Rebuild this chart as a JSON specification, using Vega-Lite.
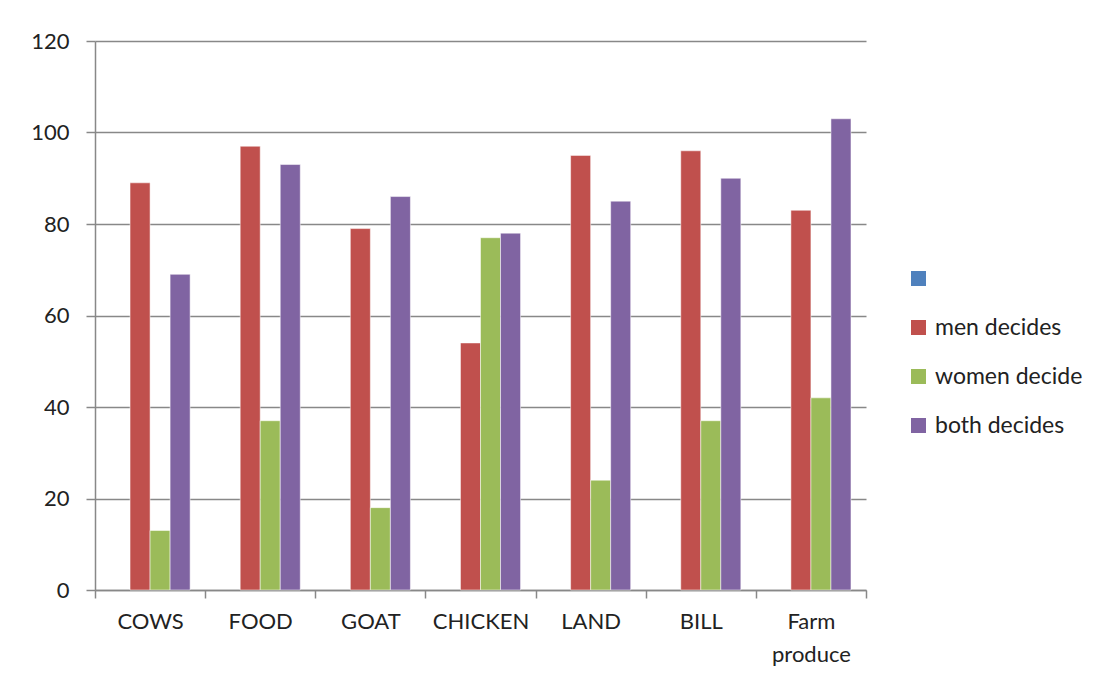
{
  "$schema": "https://vega.github.io/schema/vega-lite/v6.json",
  "width": 771,
  "height": 549,
  "autosize": {"type": "none"},
  "padding": {"left": 95, "top": 41, "right": 238, "bottom": 90},
  "background": "white",
  "config": {
    "font": "Lato",
    "view": {"stroke": null},
    "axis": {"labelFont": "Lato", "labelFontSize": 22, "labelFontWeight": 400, "labelColor": "#222222", "domainColor": "#888888", "domainWidth": 1.5, "tickColor": "#888888", "tickWidth": 1.5, "gridColor": "#888888", "gridWidth": 1.5}
  },
  "data": {
    "values": [
      {"item": "COWS", "series": "men decides", "value": 89},
      {"item": "COWS", "series": "women decide", "value": 13},
      {"item": "COWS", "series": "both decides", "value": 69},
      {"item": "FOOD", "series": "men decides", "value": 97},
      {"item": "FOOD", "series": "women decide", "value": 37},
      {"item": "FOOD", "series": "both decides", "value": 93},
      {"item": "GOAT", "series": "men decides", "value": 79},
      {"item": "GOAT", "series": "women decide", "value": 18},
      {"item": "GOAT", "series": "both decides", "value": 86},
      {"item": "CHICKEN", "series": "men decides", "value": 54},
      {"item": "CHICKEN", "series": "women decide", "value": 77},
      {"item": "CHICKEN", "series": "both decides", "value": 78},
      {"item": "LAND", "series": "men decides", "value": 95},
      {"item": "LAND", "series": "women decide", "value": 24},
      {"item": "LAND", "series": "both decides", "value": 85},
      {"item": "BILL", "series": "men decides", "value": 96},
      {"item": "BILL", "series": "women decide", "value": 37},
      {"item": "BILL", "series": "both decides", "value": 90},
      {"item": "Farm produce", "series": "men decides", "value": 83},
      {"item": "Farm produce", "series": "women decide", "value": 42},
      {"item": "Farm produce", "series": "both decides", "value": 103}
    ]
  },
  "mark": {"type": "bar", "stroke": "#ffffff", "strokeOpacity": 0.5, "strokeWidth": 1},
  "encoding": {
    "x": {
      "field": "item",
      "type": "nominal",
      "sort": null,
      "title": null,
      "scale": {"paddingInner": 0, "paddingOuter": 0},
      "axis": {
        "labelAngle": 0,
        "labelPadding": 13,
        "tickSize": 8,
        "tickBand": "extent",
        "labelLineHeight": 33,
        "labelExpr": "datum.value == 'Farm produce' ? ['Farm', 'produce'] : datum.value"
      }
    },
    "xOffset": {
      "field": "series",
      "type": "nominal",
      "scale": {"domain": ["", "men decides", "women decide", "both decides"], "paddingInner": 0, "paddingOuter": 0.75}
    },
    "y": {
      "field": "value",
      "type": "quantitative",
      "title": null,
      "scale": {"domain": [0, 120], "nice": false},
      "axis": {"values": [0, 20, 40, 60, 80, 100, 120], "tickSize": 9, "labelPadding": 17, "grid": true}
    },
    "color": {
      "field": "series",
      "type": "nominal",
      "scale": {"domain": ["", "men decides", "women decide", "both decides"], "range": ["#4F81BD", "#C0504D", "#9BBB59", "#8064A2"]},
      "legend": {
        "title": null,
        "orient": "none",
        "legendX": 812,
        "legendY": 226,
        "symbolType": "square",
        "symbolSize": 225,
        "symbolStrokeWidth": 0,
        "symbolOpacity": 1,
        "labelFont": "Lato",
        "labelFontSize": 23,
        "labelFontWeight": 400,
        "labelColor": "#222222",
        "labelOffset": 5,
        "rowPadding": 25,
        "labelLimit": 300
      }
    }
  }
}
